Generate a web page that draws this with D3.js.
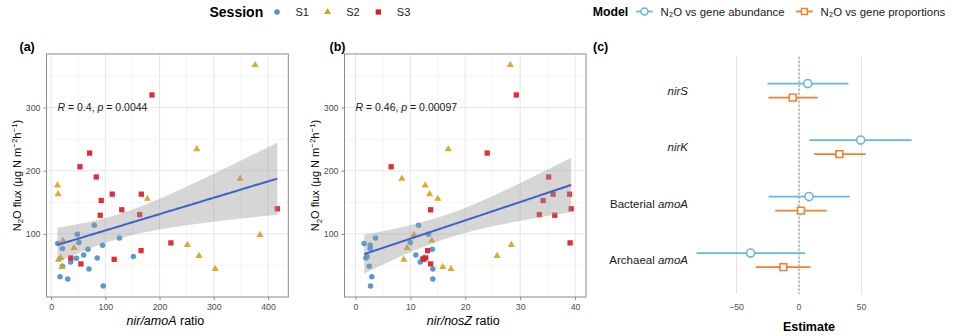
<!DOCTYPE html>
<html><head><meta charset="utf-8">
<script src="https://cdn.jsdelivr.net/npm/d3@7"></script>
<style>
body{margin:0;background:#fff;}
svg{font-family:"Liberation Sans",Arial,Helvetica,sans-serif;}
</style>
</head><body>
<svg id="chart" width="953" height="336"></svg>
<script>
// ---------------- DATA ----------------
const sessions = ["S1","S2","S3"];
const sampleSession = [
  "S1","S1","S1","S1","S1","S1","S1","S1","S1","S1","S1","S1","S1","S1","S1","S1","S1","S1",
  "S2","S2","S2","S2","S2","S2","S2","S2","S2","S2","S2","S2","S2","S2","S2",
  "S3","S3","S3","S3","S3","S3","S3","S3","S3","S3","S3","S3","S3","S3","S3","S3"];
// N2O flux (µg N m-2 h-1)
const fluxN2O = [
  113.7, 99.4, 84.6, 86.2, 93.6, 81.9, 76.7, 75.6, 66.7, 61.3, 61.9, 64.0, 55.6, 48.6, 44.4, 32.2, 28.6, 17.5,
  367.4, 234.3, 187.4, 176.7, 162.9, 155.6, 98.4, 89.4, 82.5, 77.8, 65.1, 61.9, 59.2, 47.6, 44.4,
  320.0, 206.3, 228.0, 190.1, 162.9, 162.9, 152.9, 129.5, 130.6, 138.1, 139.7, 85.7, 73.5, 59.7, 61.9, 52.4];
// nir/amoA ratio
const nirAmoA = [
  79.7, 48.4, 12.4, 51.4, 126.0, 94.9, 20.9, 67.9, 60.0, 46.7, 85.1, 151.7, 36.2, 20.9, 69.8, 16.5, 30.7, 96.2,
  376.1, 268.6, 348.5, 11.8, 12.9, 177.5, 385.2, 22.0, 251.3, 42.3, 272.8, 17.8, 13.7, 20.2, 302.7,
  186.0, 53.2, 71.0, 83.3, 112.7, 166.4, 92.5, 90.6, 163.3, 130.3, 417.1, 220.9, 165.9, 116.3, 36.2, 55.0];
// nir/nosZ ratio
const nirNosZ = [
  11.5, 13.3, 1.58, 10.0, 3.65, 2.68, 2.68, 14.0, 11.0, 12.2, 1.9, 2.1, 11.8, 2.5, 14.1, 2.98, 14.1, 2.74,
  28.2, 16.9, 8.45, 12.7, 13.5, 15.0, 10.65, 13.9, 28.4, 9.4, 25.8, 12.5, 8.8, 15.9, 17.4,
  29.3, 6.5, 24.0, 35.2, 36.0, 39.0, 34.2, 36.3, 33.5, 13.7, 39.3, 39.1, 13.15, 12.4, 12.8, 13.7];
const corR = ["0.4", "0.46"];
const corP = ["0.0044", "0.00097"];

const genes = ["nirS", "nirK", "Bacterial amoA", "Archaeal amoA"];
const models = ["N\u2082O vs gene abundance", "N\u2082O vs gene proportions"];
const estAbund = [7.0, 49.3, 8.0, -38.7];
const loAbund  = [-25.3, 8.3, -24.3, -81.9];
const hiAbund  = [39.5, 90.1, 40.5, 4.8];
const estProp  = [-5.0, 32.3, 1.6, -12.5];
const loProp   = [-24.5, 12.0, -19.0, -34.7];
const hiProp   = [15.0, 53.3, 22.1, 9.3];

const yTicks = [100, 200, 300];
const yMinor = [50, 150, 250, 350];
const xTicksA = [0, 100, 200, 300, 400];
const xMinorA = [50, 150, 250, 350];
const xTicksB = [0, 10, 20, 30, 40];
const xMinorB = [5, 15, 25, 35];
const xLimitsB = [0, 40];
const xTicksC = [-50, 0, 50];
const xLimitsC = [-84, 100];

// ---------------- SETUP ----------------
const svg = d3.select("#chart");
const colorS = d3.scaleOrdinal().domain(sessions).range(["#4a8fd7", "#d9a31e", "#dd1c26"]);
const shapeS = d3.scaleOrdinal().domain(sessions).range([d3.symbolCircle, d3.symbolTriangle, d3.symbolSquare]);
const sizeS = d3.scaleOrdinal().domain(sessions).range([24, 22, 28]);
const colorM = d3.scaleOrdinal().domain(models).range(["#66b5e8", "#f47f2c"]);

const expand = (e, f = 0.05) => { const d = e[1] - e[0]; return [e[0] - d * f, e[1] + d * f]; };
const PT = 54, PB = 297;
const yScale = d3.scaleLinear().domain(expand(d3.extent(fluxN2O))).range([PB, PT]);

function tValue975(df) { // approx t quantile (df large)
  const z = 1.959964;
  const g1 = (z ** 3 + z) / 4, g2 = (5 * z ** 5 + 16 * z ** 3 + 3 * z) / 96;
  return z + g1 / df + g2 / (df * df);
}

function drawScatter(opt) {
  const { xs, x0, x1, xScale, xTicks, xMinor, label, xTitleItalic, xTitleRest, corIdx, corX, yTitleX } = opt;
  const g = svg.append("g");
  // grid
  g.selectAll(".ymin").data(yMinor).join("line")
    .attr("x1", x0).attr("x2", x1).attr("y1", d => yScale(d)).attr("y2", d => yScale(d))
    .attr("stroke", "#eeeeee").attr("stroke-width", 0.6);
  g.selectAll(".xmin").data(xMinor.filter(v => xScale(v) > x0 && xScale(v) < x1)).join("line")
    .attr("y1", PT).attr("y2", PB).attr("x1", d => xScale(d)).attr("x2", d => xScale(d))
    .attr("stroke", "#eeeeee").attr("stroke-width", 0.6);
  g.selectAll(".ymaj").data(yTicks).join("line")
    .attr("x1", x0).attr("x2", x1).attr("y1", d => yScale(d)).attr("y2", d => yScale(d))
    .attr("stroke", "#e6e6e6").attr("stroke-width", 1);
  g.selectAll(".xmaj").data(xTicks).join("line")
    .attr("y1", PT).attr("y2", PB).attr("x1", d => xScale(d)).attr("x2", d => xScale(d))
    .attr("stroke", "#e6e6e6").attr("stroke-width", 1);

  // points
  const pts = xs.map((x, i) => ({ x, y: fluxN2O[i], s: sampleSession[i] }));
  g.selectAll(".pt").data(pts).join("path")
    .attr("transform", d => `translate(${xScale(d.x)},${yScale(d.y)})`)
    .attr("d", d => d3.symbol().type(shapeS(d.s)).size(sizeS(d.s))())
    .attr("fill", d => colorS(d.s)).attr("opacity", 0.92);

  // linear regression with 95% CI
  const n = xs.length;
  const mx = d3.mean(xs), my = d3.mean(fluxN2O);
  let sxx = 0, sxy = 0;
  xs.forEach((x, i) => { sxx += (x - mx) ** 2; sxy += (x - mx) * (fluxN2O[i] - my); });
  const b = sxy / sxx, a = my - b * mx;
  let sse = 0;
  xs.forEach((x, i) => { sse += (fluxN2O[i] - a - b * x) ** 2; });
  const s = Math.sqrt(sse / (n - 2));
  const t = tValue975(n - 2);
  const ext = d3.extent(xs);
  const grid = d3.range(80).map(k => ext[0] + (ext[1] - ext[0]) * k / 79);
  const band = grid.map(x => {
    const fit = a + b * x;
    const se = s * Math.sqrt(1 / n + (x - mx) ** 2 / sxx);
    return { x, fit, lo: fit - t * se, hi: fit + t * se };
  });
  g.append("path").datum(band)
    .attr("d", d3.area().x(d => xScale(d.x)).y0(d => yScale(d.lo)).y1(d => yScale(d.hi)))
    .attr("fill", "#999999").attr("opacity", 0.4);
  g.append("path").datum(band)
    .attr("d", d3.line().x(d => xScale(d.x)).y(d => yScale(d.fit)))
    .attr("fill", "none").attr("stroke", "#3d63c6").attr("stroke-width", 2);

  // border
  g.append("rect").attr("x", x0).attr("y", PT).attr("width", x1 - x0).attr("height", PB - PT)
    .attr("fill", "none").attr("stroke", "#8a8a8a").attr("stroke-width", 1);

  // axes
  const ax = g.append("g").attr("transform", `translate(0,${PB})`)
    .call(d3.axisBottom(xScale).tickValues(xTicks).tickSize(3).tickPadding(3.5));
  const ay = g.append("g").attr("transform", `translate(${x0},0)`)
    .call(d3.axisLeft(yScale).tickValues(yTicks).tickSize(3).tickPadding(3));
  [ax, ay].forEach(A => {
    A.select(".domain").remove();
    A.selectAll("line").attr("stroke", "#8a8a8a");
    A.selectAll("text").attr("fill", "#4d4d4d").style("font-size", "8.8px").style("font-family", "Liberation Sans, Arial, sans-serif");
  });

  // correlation label
  const ct = g.append("text").attr("x", xScale(corX)).attr("y", yScale(300) + 3.8)
    .attr("fill", "#1a1a1a").style("font-size", "10.5px");
  ct.append("tspan").attr("font-style", "italic").text("R");
  ct.append("tspan").text(` = ${corR[corIdx]}, `);
  ct.append("tspan").attr("font-style", "italic").text("p");
  ct.append("tspan").text(` = ${corP[corIdx]}`);

  // x title
  const xt = g.append("text").attr("x", (x0 + x1) / 2 - 2).attr("y", 325).attr("text-anchor", "middle")
    .attr("fill", "#000").style("font-size", "12.5px");
  xt.append("tspan").attr("font-style", "italic").text(xTitleItalic);
  xt.append("tspan").text(xTitleRest);

  // y title
  const yt = g.append("text").attr("transform", `translate(${yTitleX},${(PT + PB) / 2}) rotate(-90)`)
    .attr("text-anchor", "middle").attr("fill", "#000").style("font-size", "11px");
  yt.append("tspan").text("N");
  yt.append("tspan").attr("dy", 2.5).style("font-size", "8px").text("2");
  yt.append("tspan").attr("dy", -2.5).text("O flux (µg N m");
  yt.append("tspan").attr("dy", -4).style("font-size", "8px").text("\u22122");
  yt.append("tspan").attr("dy", 4).text("h");
  yt.append("tspan").attr("dy", -4).style("font-size", "8px").text("\u22121");
  yt.append("tspan").attr("dy", 4).text(")");

  // panel label
  g.append("text").attr("x", label.x).attr("y", 51).attr("font-weight", "bold")
    .style("font-size", "12.5px").attr("fill", "#000").text(label.t);
}

const xA = d3.scaleLinear().domain(expand(d3.extent(nirAmoA))).range([46.5, 288.3]);
drawScatter({ xs: nirAmoA, x0: 46.5, x1: 288.3, xScale: xA, xTicks: xTicksA, xMinor: xMinorA,
  label: { x: 19.5, t: "(a)" }, xTitleItalic: "nir/amoA", xTitleRest: " ratio", corIdx: 0,
  corX: d3.min(nirAmoA), yTitleX: 20.5 });

const xB = d3.scaleLinear().domain(expand(xLimitsB)).range([344.5, 586]);
drawScatter({ xs: nirNosZ, x0: 344.5, x1: 586, xScale: xB, xTicks: xTicksB, xMinor: xMinorB,
  label: { x: 329.5, t: "(b)" }, xTitleItalic: "nir/nosZ", xTitleRest: " ratio", corIdx: 1,
  corX: xLimitsB[0], yTitleX: 319 });

// ---------------- PANEL C ----------------
const gc = svg.append("g");
const xC = d3.scaleLinear().domain(xLimitsC).range([694, 924]);
const yC = d3.scalePoint().domain(genes).range([56.7, 294]).padding(0.6);
const dodge = d3.scaleBand().domain(models).range([-14, 14]);
gc.selectAll(".gl").data(xTicksC).join("line")
  .attr("x1", d => xC(d)).attr("x2", d => xC(d)).attr("y1", 56.7).attr("y2", 294)
  .attr("stroke", "#e3e3e3").attr("stroke-width", 1);
gc.append("line").attr("x1", xC(0)).attr("x2", xC(0)).attr("y1", 56.7).attr("y2", 294)
  .attr("stroke", "#707070").attr("stroke-width", 0.8).attr("stroke-dasharray", "2,2");

const rowsC = [];
genes.forEach((gname, i) => {
  rowsC.push({ g: gname, m: models[0], est: estAbund[i], lo: loAbund[i], hi: hiAbund[i] });
  rowsC.push({ g: gname, m: models[1], est: estProp[i], lo: loProp[i], hi: hiProp[i] });
});
const yRow = d => yC(d.g) + dodge(d.m) + dodge.bandwidth() / 2;
gc.selectAll(".eb").data(rowsC).join("line")
  .attr("x1", d => xC(d.lo)).attr("x2", d => xC(d.hi)).attr("y1", yRow).attr("y2", yRow)
  .attr("stroke", d => colorM(d.m)).attr("stroke-width", 1.8);
const markC = d3.scaleOrdinal().domain(models).range([d3.symbolCircle, d3.symbolSquare]);
const markSize = d3.scaleOrdinal().domain(models).range([52, 46]);
gc.selectAll(".mk").data(rowsC).join("path")
  .attr("transform", d => `translate(${xC(d.est)},${yRow(d)})`)
  .attr("d", d => d3.symbol().type(markC(d.m)).size(markSize(d.m))())
  .attr("fill", "#fff").attr("stroke", d => colorM(d.m)).attr("stroke-width", 1.6);

// y labels
gc.selectAll(".yl").data(genes).join("text")
  .attr("x", 688).attr("y", d => yC(d) + 4).attr("text-anchor", "end")
  .attr("fill", "#1a1a1a").style("font-size", "11.5px")
  .each(function (d) {
    const el = d3.select(this);
    const parts = d.split(" ");
    if (parts.length === 1) el.append("tspan").attr("font-style", "italic").text(parts[0]);
    else { el.append("tspan").text(parts[0] + " "); el.append("tspan").attr("font-style", "italic").text(parts[1]); }
  });
// x tick labels
gc.selectAll(".xl").data(xTicksC).join("text")
  .attr("x", d => xC(d)).attr("y", 310).attr("text-anchor", "middle")
  .attr("fill", "#4d5866").style("font-size", "8.8px")
  .text(d => d3.format("")(d).replace("-", "\u2212"));
gc.append("text").attr("x", (xC.range()[0] + xC.range()[1]) / 2).attr("y", 331).attr("text-anchor", "middle")
  .attr("font-weight", "bold").style("font-size", "12.5px").attr("fill", "#000").text("Estimate");
gc.append("text").attr("x", 593).attr("y", 51).attr("font-weight", "bold")
  .style("font-size", "12.5px").attr("fill", "#000").text("(c)");

// ---------------- LEGENDS ----------------
const lg = svg.append("g");
lg.append("text").attr("x", 209.5).attr("y", 16.5).attr("font-weight", "bold")
  .style("font-size", "14px").attr("fill", "#000").text("Session");
const sessKeyX = d3.scalePoint().domain(sessions).range([277, 378.3]);
lg.selectAll(".sk").data(sessions).join("path")
  .attr("transform", d => `translate(${sessKeyX(d)},12)`)
  .attr("d", d => d3.symbol().type(shapeS(d)).size(sizeS(d))())
  .attr("fill", d => colorS(d));
lg.selectAll(".st").data(sessions).join("text")
  .attr("x", d => sessKeyX(d) + 18.5).attr("y", 16).style("font-size", "11px").attr("fill", "#1a1a1a")
  .text(d => d);

lg.append("text").attr("x", 592.7).attr("y", 15.6).attr("font-weight", "bold")
  .style("font-size", "12.3px").attr("fill", "#000").text("Model");
const modKeyX = d3.scaleOrdinal().domain(models).range([636, 796]);
models.forEach(m => {
  const x = modKeyX(m);
  lg.append("line").attr("x1", x).attr("x2", x + 16.7).attr("y1", 11.5).attr("y2", 11.5)
    .attr("stroke", colorM(m)).attr("stroke-width", 1.8);
  lg.append("path").attr("transform", `translate(${x + 8.4},11.5)`)
    .attr("d", d3.symbol().type(markC(m)).size(markSize(m) * 0.75)())
    .attr("fill", "#fff").attr("stroke", colorM(m)).attr("stroke-width", 1.5);
  lg.append("text").attr("x", x + 24.5).attr("y", 15.6).style("font-size", "11.4px").attr("fill", "#1a1a1a").text(m);
});
</script>
</body></html>
